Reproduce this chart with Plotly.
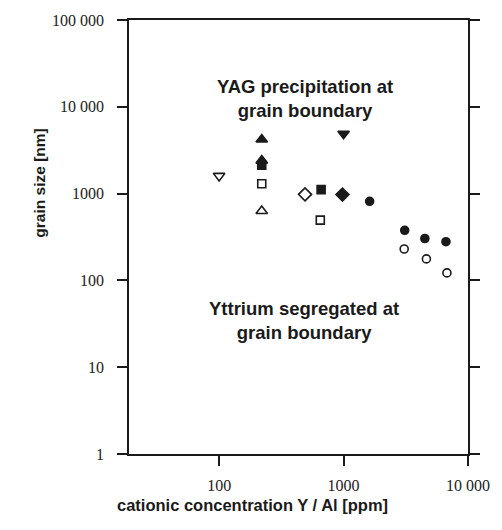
import plotly.graph_objects as go

# Data (cationic concentration [ppm], grain size [nm])
open_down_tri_x = [100]
open_down_tri_y = [1600]
filled_up_tri_x = [220, 220]
filled_up_tri_y = [4200, 2400]
filled_square_x = [220, 660]
filled_square_y = [2120, 1110]
open_square_x = [220, 650]
open_square_y = [1300, 495]
open_up_tri_x = [220]
open_up_tri_y = [630]
open_diamond_x = [490]
open_diamond_y = [980]
filled_diamond_x = [980]
filled_diamond_y = [975]
filled_down_tri_x = [1000]
filled_down_tri_y = [4900]
filled_circle_x = [1620, 3100, 4500, 6650]
filled_circle_y = [815, 378, 304, 279]
open_circle_x = [3070, 4630, 6770]
open_circle_y = [230, 177, 122]

x_tickvals = [100, 1000, 10000]
x_ticktext = ["100", "1000", "10 000"]
y_tickvals = [1, 10, 100, 1000, 10000, 100000]
y_ticktext = ["1", "10", "100", "1000", "10 000", "100 000"]

INK = "#1a1a1a"

def add(x, y, symbol, size, filled):
    fig.add_trace(go.Scatter(
        x=x, y=y, mode="markers", showlegend=False,
        marker=dict(symbol=symbol, size=size,
                    color=INK if filled else "white",
                    line=dict(color=INK, width=1.6)),
    ))

fig = go.Figure()
add(open_down_tri_x, open_down_tri_y, "triangle-down", 10, False)
add(filled_square_x, filled_square_y, "square", 8, True)
add(filled_up_tri_x, filled_up_tri_y, "triangle-up", 10, True)
add(open_square_x, open_square_y, "square", 8, False)
add(open_up_tri_x, open_up_tri_y, "triangle-up", 10, False)
add(open_diamond_x, open_diamond_y, "diamond", 10, False)
add(filled_diamond_x, filled_diamond_y, "diamond", 10, True)
add(filled_down_tri_x, filled_down_tri_y, "triangle-down", 10, True)
add(filled_circle_x, filled_circle_y, "circle", 8, True)
add(open_circle_x, open_circle_y, "circle", 8, False)

tickfont = dict(family="Liberation Serif", size=16, color="#222")

fig.update_xaxes(
    type="log", range=[1.2756, 4.0],
    tickvals=x_tickvals, ticktext=x_ticktext,
    ticks="outside", ticklen=10, tickwidth=1.5, tickcolor=INK,
    showline=True, linewidth=1.5, linecolor=INK, mirror=True,
    showgrid=False, zeroline=False, tickfont=tickfont,
    ticklabelstandoff=6,
)
fig.update_yaxes(
    type="log", range=[0, 5],
    tickvals=y_tickvals, ticktext=y_ticktext,
    ticks="outside", ticklen=10, tickwidth=1.5, tickcolor=INK,
    showline=True, linewidth=1.5, linecolor=INK, mirror="ticks",
    showgrid=False, zeroline=False, tickfont=tickfont,
    ticklabelstandoff=10,
)

annfont = dict(family="Liberation Sans", size=18.5, color="#1a1a1a", weight="bold")
fig.add_annotation(text="YAG precipitation at<br>grain boundary", xref="paper", yref="paper",
                   x=0.52, y=0.875, showarrow=False, font=annfont, align="center")
fig.add_annotation(text="Yttrium segregated at<br>grain boundary", xref="paper", yref="paper",
                   x=0.517, y=0.2506, showarrow=False, font=annfont, align="center")
fig.add_annotation(text="cationic concentration Y / Al [ppm]", xref="paper", yref="paper",
                   x=0.364, y=-0.1435, showarrow=False,
                   font=dict(family="Liberation Sans", size=16.5, color="#1a1a1a", weight="bold"))
fig.add_annotation(text="grain size [nm]", xref="paper", yref="paper",
                   x=-0.295, y=0.624, showarrow=False, textangle=-90,
                   font=dict(family="Liberation Sans", size=15.5, color="#1a1a1a", weight="bold"))

fig.update_layout(
    width=502, height=530,
    margin=dict(l=129, r=27, t=15, b=76),
    paper_bgcolor="white", plot_bgcolor="white",
)

fig.write_html("out.html")
